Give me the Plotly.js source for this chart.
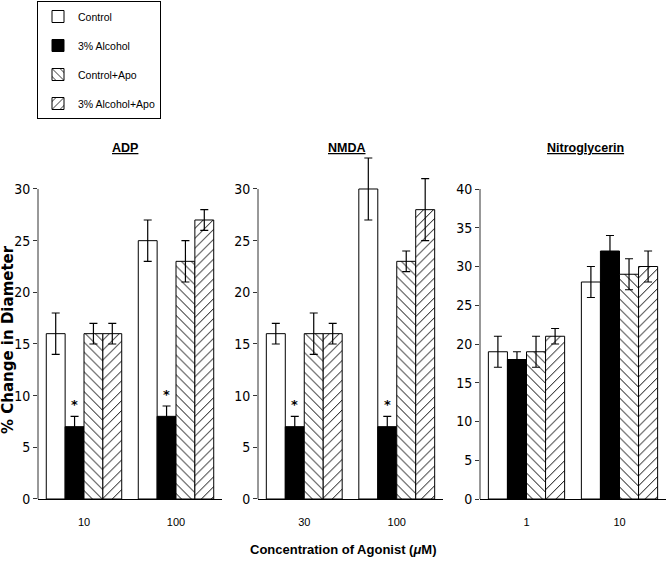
<!DOCTYPE html>
<html>
<head>
<meta charset="utf-8">
<script src="https://cdn.plot.ly/plotly-3.0.1.min.js"></script>
<style>
  body { margin: 0; background: #fff; }
  #chart { width: 667px; height: 563px; }
</style>
</head>
<body>
<div id="chart"></div>
<script>
var panels = ['ADP', 'NMDA', 'Nitroglycerin'];
var doses = [['10', '100'], ['30', '100'], ['1', '10']];
var seriesNames = ['Control', '3% Alcohol', 'Control+Apo', '3% Alcohol+Apo'];

// mean % change, one row per panel, one value per dose
var control    = [[16, 25], [16, 30], [19, 28]];
var alcohol    = [[7, 8],   [7, 7],   [18, 32]];
var controlApo = [[16, 23], [16, 23], [19, 29]];
var alcoholApo = [[16, 27], [16, 28], [21, 30]];

// error bars
var controlErr    = [[2, 2], [1, 3], [2, 2]];
var alcoholErr    = [[1, 1], [1, 1], [1, 2]];
var controlApoErr = [[1, 2], [2, 1], [2, 2]];
var alcoholApoErr = [[1, 1], [1, 3], [1, 2]];

// asterisk over the alcohol bar
var significant = [[true, true], [true, true], [false, false]];
var axisMax = [30, 30, 40];   // top tick / end of axis line
var rangeMax = [34, 34, 40];  // room for error bars above the axis

var values = [control, alcohol, controlApo, alcoholApo];
var errors = [controlErr, alcoholErr, controlApoErr, alcoholApoErr];
var markers = [
    {color: 'white', line: {color: 'black', width: 1}},
    {color: 'black', line: {color: 'black', width: 1}},
    {color: 'white', line: {color: 'black', width: 1},
     pattern: {shape: '\\', fgcolor: 'black', bgcolor: 'white', size: 7, solidity: 0.14}},
    {color: 'white', line: {color: 'black', width: 1},
     pattern: {shape: '/', fgcolor: 'black', bgcolor: 'white', size: 7, solidity: 0.14}}
];

var W = 667, H = 563;
var xDomains = [[38 / W, 222 / W], [258 / W, 443 / W], [480 / W, 666 / W]];
var yBottom = 499, yTop = 189;   // pixel rows of 0 and of the top tick
var titleX = [125, 347, 585];
var bargap = 0.18;

var data = [];
var annotations = [];
var shapes = [];
var layout = {
    width: W,
    height: H,
    margin: {l: 0, r: 0, t: 0, b: 0},
    paper_bgcolor: 'white',
    plot_bgcolor: 'white',
    barmode: 'group',
    bargap: bargap,
    bargroupgap: 0,
    showlegend: true,
    legend: {
        x: 37 / W, y: 1 - 1 / H, xanchor: 'left', yanchor: 'top',
        bordercolor: 'black', borderwidth: 1,
        font: {family: 'Liberation Sans', size: 10.5, color: 'black'},
        traceorder: 'grouped',
        tracegroupgap: 10,
        itemwidth: 30
    }
};

for (var p = 0; p < panels.length; p++) {
    var xa = p === 0 ? 'x' : 'x' + (p + 1);
    var ya = p === 0 ? 'y' : 'y' + (p + 1);
    for (var s = 0; s < seriesNames.length; s++) {
        data.push({
            type: 'bar',
            x: doses[p],
            y: values[s][p],
            xaxis: xa,
            yaxis: ya,
            name: seriesNames[s],
            legendgroup: seriesNames[s],
            showlegend: p === 0,
            marker: markers[s],
            hoverinfo: 'none',
            error_y: {type: 'data', array: errors[s][p], color: 'black', thickness: 1.2, width: 4}
        });
    }
    var pxPerUnit = (yBottom - yTop) / axisMax[p];
    var domainTopPx = yBottom - pxPerUnit * rangeMax[p];
    var tickList = [];
    for (var t = 0; t <= axisMax[p]; t += 5) tickList.push(t);

    layout['xaxis' + (p === 0 ? '' : p + 1)] = {
        domain: xDomains[p],
        anchor: ya,
        type: 'category',
        range: [-0.5, 1.5],
        showline: true, linecolor: 'black', linewidth: 1,
        ticks: '', showgrid: false, zeroline: false,
        ticklabelstandoff: 13,
        tickfont: {family: 'Liberation Sans', size: 11, color: 'black'}
    };
    layout['yaxis' + (p === 0 ? '' : p + 1)] = {
        domain: [1 - yBottom / H, 1 - domainTopPx / H],
        anchor: xa,
        range: [0, rangeMax[p]],
        tickvals: tickList,
        showline: false,
        ticks: 'outside', ticklen: 4, tickcolor: '#333', tickwidth: 1,
        showgrid: false, zeroline: false,
        tickfont: {family: 'DejaVu Sans Condensed', size: 14, color: 'black'}
    };
    // y axis line only up to the top tick
    shapes.push({
        type: 'line', xref: xa + ' domain', yref: ya,
        x0: 0, x1: 0, y0: 0, y1: axisMax[p],
        line: {color: '#333', width: 1}
    });
    annotations.push({
        xref: 'paper', yref: 'paper', x: titleX[p] / W, y: 1 - 148 / H,
        xanchor: 'center', yanchor: 'middle', showarrow: false,
        text: panels[p],
        font: {family: 'Liberation Sans', size: 12.5, weight: 'bold', color: 'black', lineposition: 'under'}
    });
    for (var d = 0; d < doses[p].length; d++) {
        if (significant[p][d]) {
            annotations.push({
                xref: xa, yref: ya,
                x: d - (1 - bargap) / 8,
                y: alcohol[p][d] + alcoholErr[p][d] + 0.2,
                xanchor: 'center', yanchor: 'bottom', showarrow: false,
                text: '*',
                font: {family: 'DejaVu Sans', size: 13, weight: 'bold', color: 'black'}
            });
        }
    }
}

annotations.push({
    xref: 'paper', yref: 'paper', x: 8 / W, y: 1 - 340 / H,
    xanchor: 'center', yanchor: 'middle', showarrow: false, textangle: -90,
    text: '% Change in Diameter',
    font: {family: 'DejaVu Sans', size: 15, weight: 'bold', color: 'black'}
});
annotations.push({
    xref: 'paper', yref: 'paper', x: 343 / W, y: 1 - 549 / H,
    xanchor: 'center', yanchor: 'middle', showarrow: false,
    text: 'Concentration of Agonist (<i>\u03bc</i>M)',
    font: {family: 'Liberation Sans', size: 13, weight: 'bold', color: 'black'}
});
layout.annotations = annotations;
layout.shapes = shapes;

Plotly.newPlot('chart', data, layout, {displayModeBar: false, staticPlot: true});
</script>
</body>
</html>
